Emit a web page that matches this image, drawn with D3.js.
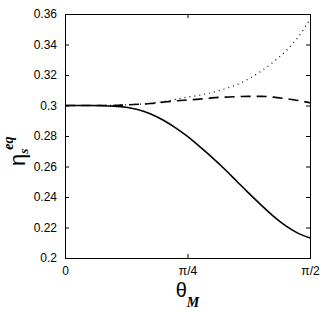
<!DOCTYPE html>
<html>
<head>
<meta charset="utf-8">
<script src="https://cdn.jsdelivr.net/npm/d3@7"></script>
<style>
  body { margin: 0; background: #fff; }
  text { font-family: "Liberation Sans", Arial, sans-serif; }
</style>
</head>
<body>
<div id="chart"></div>
<script>
// fraction of pi/2
const theta = [0, 0.05, 0.1, 0.15, 0.2, 0.25, 0.3, 0.35, 0.4, 0.45, 0.5,
  0.55, 0.6, 0.65, 0.7, 0.75, 0.8, 0.85, 0.9, 0.95, 1.0];
const solid = [0.3, 0.3, 0.3, 0.2999, 0.2996, 0.2988, 0.2972, 0.2945, 0.2905, 0.2855, 0.2797,
  0.2730, 0.2660, 0.2585, 0.2505, 0.2425, 0.2348, 0.2275, 0.2212, 0.2163, 0.2131];
const dashed = [0.3, 0.3, 0.3, 0.3, 0.3, 0.3004, 0.3008, 0.3013, 0.3022, 0.3030, 0.3036,
  0.3042, 0.3050, 0.3055, 0.3058, 0.3060, 0.3060, 0.3055, 0.3045, 0.3033, 0.3018];
const dotted = [0.3, 0.3, 0.3, 0.3, 0.3002, 0.3005, 0.3008, 0.3014, 0.3025, 0.3040, 0.3055,
  0.3068, 0.3085, 0.3108, 0.3135, 0.3175, 0.3225, 0.3285, 0.3355, 0.3445, 0.3565];
const yTicks = [0.2, 0.22, 0.24, 0.26, 0.28, 0.3, 0.32, 0.34, 0.36];
const xTicks = [0, 0.5, 1];
const xTickLabels = ['0', 'π/4', 'π/2'];

const W = 327, H = 311;
const margin = { top: 14, right: 17, bottom: 53, left: 65 };
const width = W - margin.left - margin.right;
const height = H - margin.top - margin.bottom;

const svg = d3.select('#chart').append('svg')
  .attr('width', W).attr('height', H);
const g = svg.append('g')
  .attr('transform', `translate(${margin.left},${margin.top})`);

const x = d3.scaleLinear().domain([0, 1]).range([0, width]);
const y = d3.scaleLinear().domain([0.2, 0.36]).range([height, 0]);

const tickFmt = d => d === 0.3 ? '0.3' : (d === 0.2 ? '0.2' : d.toFixed(2));

// axes, ticks inside on all sides
const axLeft = g.append('g').call(d3.axisLeft(y).tickValues(yTicks).tickSize(-4).tickPadding(8).tickFormat(tickFmt));
const axRight = g.append('g').attr('transform', `translate(${width},0)`)
  .call(d3.axisRight(y).tickValues(yTicks).tickSize(-4).tickFormat(''));
const axBottom = g.append('g').attr('transform', `translate(0,${height})`)
  .call(d3.axisBottom(x).tickValues(xTicks).tickSize(-4).tickPadding(8).tickFormat((d, i) => xTickLabels[i]));
const axTop = g.append('g')
  .call(d3.axisTop(x).tickValues(xTicks).tickSize(-4).tickFormat(''));

[axLeft, axRight, axBottom, axTop].forEach(a => {
  a.select('.domain').attr('stroke', '#000').attr('stroke-width', 1);
  a.selectAll('.tick line').attr('stroke', '#000');
  a.selectAll('.tick text').attr('fill', '#000').style('font-size', '12px');
});

const line = d3.line()
  .x((d, i) => x(theta[i]))
  .y(d => y(d))
  .curve(d3.curveMonotoneX);

g.append('path').datum(dotted).attr('d', line)
  .attr('fill', 'none').attr('stroke', '#000').attr('stroke-width', 1.2)
  .attr('stroke-dasharray', '1,4');
g.append('path').datum(dashed).attr('d', line)
  .attr('fill', 'none').attr('stroke', '#000').attr('stroke-width', 1.6)
  .attr('stroke-dasharray', '10,6');
g.append('path').datum(solid).attr('d', line)
  .attr('fill', 'none').attr('stroke', '#000').attr('stroke-width', 1.6);

// x label
const xl = svg.append('text')
  .attr('x', margin.left + width / 2)
  .attr('y', 297)
  .attr('text-anchor', 'middle')
  .style('font-size', '20px');
xl.append('tspan').text('θ');
xl.append('tspan').attr('dy', 10).style('font-size', '14px')
  .style('font-weight', 'bold').style('font-style', 'italic')
  .style('font-family', '"Liberation Serif", serif').text('M');

// y label
const yl = svg.append('text')
  .attr('transform', 'translate(25,166) rotate(-90)')
  .attr('text-anchor', 'start')
  .style('font-size', '22px');
yl.append('tspan').text('η');
yl.append('tspan').attr('dy', 3).style('font-size', '13px')
  .style('font-weight', 'bold').style('font-style', 'italic')
  .style('font-family', '"Liberation Serif", serif').text('s');
yl.append('tspan').attr('dx', -1).attr('dy', -15).style('font-size', '14px')
  .style('font-weight', 'bold').style('font-style', 'italic')
  .style('font-family', '"Liberation Serif", serif').text('eq');
</script>
</body>
</html>
